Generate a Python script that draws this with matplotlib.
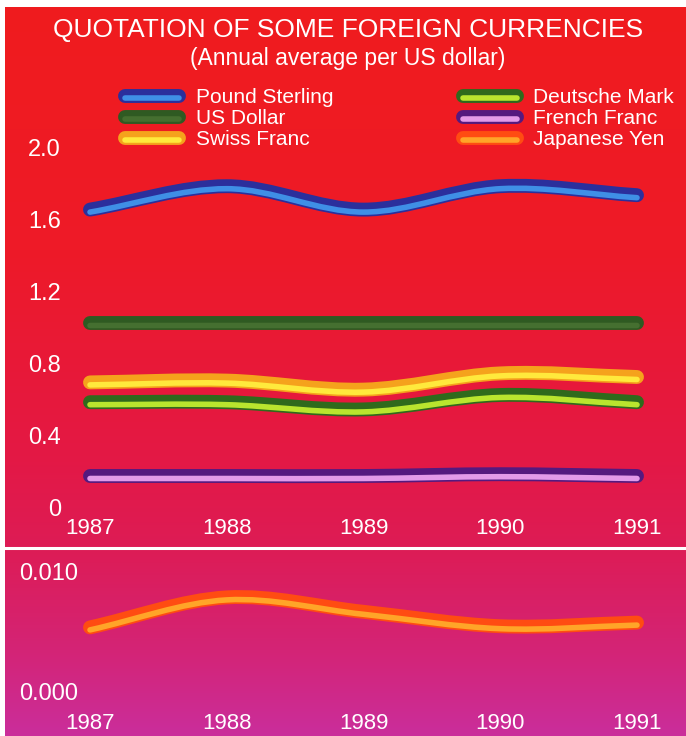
import numpy as np
import matplotlib
matplotlib.use("Agg")
import matplotlib.pyplot as plt
import matplotlib.patheffects as pe
from matplotlib.path import Path
from matplotlib.patches import PathPatch
from matplotlib.lines import Line2D
from matplotlib.transforms import ScaledTranslation

plt.rcParams["font.family"] = ["Liberation Sans", "DejaVu Sans"]

# data
years = [1987, 1988, 1989, 1990, 1991]
pound_sterling = [1.63, 1.76, 1.63, 1.76, 1.71]
us_dollar = [1.0, 1.0, 1.0, 1.0, 1.0]
swiss_franc = [0.67, 0.68, 0.63, 0.72, 0.70]
deutsche_mark = [0.56, 0.56, 0.52, 0.60, 0.56]
french_franc = [0.15, 0.15, 0.15, 0.16, 0.15]
japanese_yen = [0.0053, 0.0078, 0.0066, 0.0054, 0.0057]

top_ticks = [0, 0.4, 0.8, 1.2, 1.6, 2.0]
top_ticklabels = ["0", "0.4", "0.8", "1.2", "1.6", "2.0"]
yen_ticks = [0.0, 0.010]
yen_ticklabels = ["0.000", "0.010"]

# outer (dark rim) and inner (highlight) colour per currency
STYLES = {
    "Pound Sterling": ("#2b2f9c", "#3f8fe6"),
    "US Dollar": ("#2f5a22", "#456f30"),
    "Swiss Franc": ("#f5a21c", "#ffe93c"),
    "Deutsche Mark": ("#2f6a1c", "#b9e52e"),
    "French Franc": ("#55197f", "#e39ae9"),
    "Japanese Yen": ("#ff4c12", "#ffa528"),
}

W, H = 686, 736
OUTER_LW = 10
INNER_LW = 4


def fx(px):
    return px / W


def fy(py):
    return 1 - py / H


def tube_effects(outer, inner):
    return [pe.Stroke(linewidth=OUTER_LW, foreground=outer),
            pe.Stroke(offset=(0, -1.8), linewidth=INNER_LW, foreground=inner)]


def smooth_path(xs, ys):
    """bezier curve through the points (catmull-rom style tangents)"""
    xs = np.asarray(xs, float)
    ys = np.asarray(ys, float)
    n = len(xs)
    m = np.zeros(n)
    for i in range(n):
        if i == 0:
            m[i] = (ys[1] - ys[0]) / (xs[1] - xs[0])
        elif i == n - 1:
            m[i] = (ys[-1] - ys[-2]) / (xs[-1] - xs[-2])
        else:
            m[i] = (ys[i + 1] - ys[i - 1]) / (xs[i + 1] - xs[i - 1])
    verts = [(xs[0], ys[0])]
    codes = [Path.MOVETO]
    for i in range(n - 1):
        dx = (xs[i + 1] - xs[i]) / 3
        verts += [(xs[i] + dx, ys[i] + m[i] * dx),
                  (xs[i + 1] - dx, ys[i + 1] - m[i + 1] * dx),
                  (xs[i + 1], ys[i + 1])]
        codes += [Path.CURVE4] * 3
    return Path(verts, codes)


def draw_tube(ax, xs, ys, name):
    outer, inner = STYLES[name]
    patch = PathPatch(smooth_path(xs, ys), fill=False, edgecolor=inner,
                      lw=INNER_LW, capstyle="round", joinstyle="round",
                      clip_on=False, zorder=3)
    patch.set_path_effects(tube_effects(outer, inner))
    ax.add_patch(patch)


def style_axis(ax, ypad, xpad, yfs):
    for s in ax.spines.values():
        s.set_visible(False)
    ax.set_facecolor("none")
    ax.tick_params(axis="both", length=0, colors="white")
    ax.tick_params(axis="y", pad=ypad, labelsize=yfs)
    ax.tick_params(axis="x", pad=xpad, labelsize=16)
    ax.set_xlim(years[0], years[-1])
    ax.set_xticks(years)
    ax.set_xticklabels([str(y) for y in years])


fig = plt.figure(figsize=(W / 100, H / 100), dpi=100, facecolor="white")

# background gradient red -> magenta
bg = fig.add_axes([fx(5), 0, 1 - fx(5), fy(7)])
bg.set_axis_off()
stops_y = [7, 250, 450, 550, 650, 736]
stops_c = [(240, 28, 30), (238, 26, 40), (228, 24, 68), (221, 28, 86),
           (212, 36, 118), (202, 46, 156)]
rows = np.arange(7, 736)
grad = np.stack([np.interp(rows, stops_y, [c[k] for c in stops_c]) for k in range(3)], axis=1) / 255
bg.imshow(grad[:, None, :], aspect="auto", extent=[0, 1, 0, 1])
bg.set_zorder(-5)

# separator between the panels
fig.add_artist(Line2D([fx(5), 1], [fy(548), fy(548)], color="white", lw=2.2))

# upper panel
x0, x1 = 90, 637
ax = fig.add_axes([fx(x0), fy(503), fx(x1 - x0), fy(143) - fy(503)])
style_axis(ax, ypad=21, xpad=11, yfs=17)
ax.set_ylim(0, 2.0)
ax.set_yticks(top_ticks)
ax.set_yticklabels(top_ticklabels)
shift = ScaledTranslation(0, -4 / 100, fig.dpi_scale_trans)
for lab in ax.get_yticklabels():
    lab.set_transform(lab.get_transform() + shift)

draw_tube(ax, years, us_dollar, "US Dollar")
draw_tube(ax, years, pound_sterling, "Pound Sterling")
draw_tube(ax, years, french_franc, "French Franc")
draw_tube(ax, years, deutsche_mark, "Deutsche Mark")
draw_tube(ax, years, swiss_franc, "Swiss Franc")

# lower panel (yen)
ax2 = fig.add_axes([fx(x0), fy(691), fx(x1 - x0), fy(571) - fy(691)])
style_axis(ax2, ypad=8.5, xpad=16, yfs=17)
ax2.set_ylim(0, 0.010)
ax2.set_yticks(yen_ticks)
ax2.set_yticklabels(yen_ticklabels)
draw_tube(ax2, years, japanese_yen, "Japanese Yen")

# legend, filled column by column
order = ["Pound Sterling", "US Dollar", "Swiss Franc",
         "Deutsche Mark", "French Franc", "Japanese Yen"]
handles = []
for name in order:
    outer, inner = STYLES[name]
    h = Line2D([], [], color=inner, lw=INNER_LW, solid_capstyle="round",
               label=name)
    h.set_path_effects(tube_effects(outer, inner))
    handles.append(h)
leg = fig.legend(handles=handles, loc="upper left",
                 bbox_to_anchor=(fx(125), fy(88)), ncol=2, frameon=False,
                 fontsize=15, handlelength=2.6, handletextpad=0.8,
                 columnspacing=6.2, labelspacing=0.1, borderpad=0,
                 borderaxespad=0)
for t in leg.get_texts():
    t.set_color("white")

fig.text(fx(348), fy(30), "QUOTATION OF SOME FOREIGN CURRENCIES",
         ha="center", va="center", color="white", fontsize=19)
fig.text(fx(348), fy(58), "(Annual average per US dollar)",
         ha="center", va="center", color="white", fontsize=16.5)

fig.savefig("out.png", dpi=100, facecolor="white")
